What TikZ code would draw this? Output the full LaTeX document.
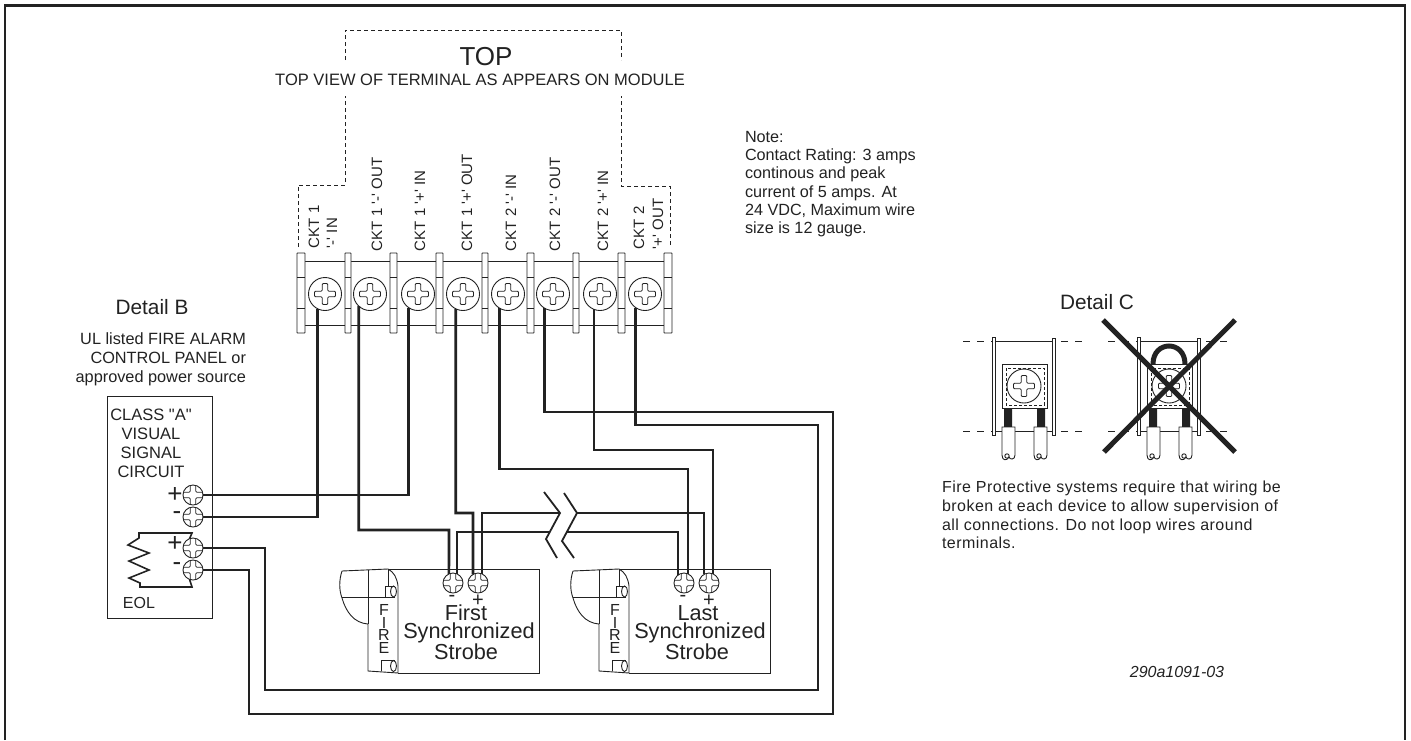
\documentclass[tikz,border=0pt]{standalone}
\usepackage{fontspec}
\setmainfont{Liberation Sans}
\definecolor{ink}{HTML}{222222}
\newcommand{\qs}{\textquotesingle}
\begin{document}
\begin{tikzpicture}[x=1pt,y=-1pt]
\tikzset{
    thinline/.style={draw=ink,line width=.9pt},
    dashline/.style={draw=ink,line width=.9pt,dash pattern=on 4pt off 3pt},
    wire/.style={draw=ink,line width=2.6pt},
    screw/.style={circle,draw=ink,fill=white,line width=.9pt,inner sep=0pt,outer sep=0pt,minimum size=#1,
        path picture={\draw[ink,line width=.8pt,rounded corners=1pt,shift={(path picture bounding box.center)},scale=#1/33]
        (-2.8,-10.5) -- (2.8,-10.5) -- (2.8,-2.8) -- (10.5,-2.8) -- (10.5,2.8) -- (2.8,2.8) -- (2.8,10.5) -- (-2.8,10.5) -- (-2.8,2.8) -- (-10.5,2.8) -- (-10.5,-2.8) -- (-2.8,-2.8) -- cycle;}},
    txt/.style={inner sep=0pt,outer sep=0pt,text=ink,font=\fontsize{#1}{#1}\selectfont},
}
\useasboundingbox (0,0) rectangle (1411,740);

% Frame
\draw[ink,line width=2.2pt] (5,740) -- (5,5.5) -- (1405,5.5) -- (1405,740);

% Top view
\draw[dashline] (345,60) -- (345,30) -- (621,30) -- (621,60);
\draw[dashline] (298,247) -- (298,185) -- (345,185) -- (345,96);
\draw[dashline] (670,245) -- (670,186) -- (621,186) -- (621,96);
\node[txt=26] (toptitle) at (486,57) {TOP};
\node[txt=16.5] (topview) at (480,80) {TOP VIEW OF TERMINAL AS APPEARS ON MODULE};
\node[txt=16.2,anchor=north west,align=left] (note) at (745,131) {Note:\\[2.1pt]Contact Rating: 3 amps\\[2.1pt]continous and peak\\[2.1pt]current of 5 amps. At\\[2.1pt]24 VDC, Maximum wire\\[2.1pt]size is 12 gauge.};

% Terminal strip
\draw[thinline] (305,261) -- (664,261) (305,325) -- (664,325);
\foreach \xa/\xb in {297/305,345/351,390/397,436/443,482/488,527/534,573/579,618/625,664/672}{
    \draw[thinline,fill=white,rounded corners=.5pt] (\xa,253) rectangle (\xb,333);
    \draw[thinline] (\xa,277) -- (\xb,277) (\xa,308) -- (\xb,308);
}
\foreach \n/\x in {1/325,2/370,3/418,4/463,5/508,6/553,7/600,8/645}{
    \node[screw=33] (t\n) at (\x,294) {};
}
\node[txt=15,rotate=90,anchor=west] (c1a) at (314,248) {CKT 1};
\node[txt=15,rotate=90,anchor=west] (c1b) at (332,248) {\qs-\qs{} IN};
\foreach \n/\x/\lab in {2/377/CKT 1 \qs-\qs{} OUT,3/420/CKT 1 \qs+\qs{} IN,4/467/CKT 1 \qs+\qs{} OUT,5/511/CKT 2 \qs-\qs{} IN,6/555/CKT 2 \qs-\qs{} OUT,7/603/CKT 2 \qs+\qs{} IN}{
    \node[txt=15,rotate=90,anchor=west] (c\n) at (\x,251) {\lab};
}
\node[txt=15,rotate=90,anchor=west] (c8a) at (639,249) {CKT 2};
\node[txt=15,rotate=90,anchor=west] (c8b) at (658,249) {\qs+\qs{} OUT};

% Panel
\node[txt=20.8] (detailb) at (152,307) {Detail B};
\node[txt=16.3,anchor=north east,align=right] (ul) at (246,333) {UL listed FIRE ALARM\\[2.7pt]CONTROL PANEL or\\[2.7pt]approved power source};
\draw[thinline] (107,396) rectangle (212,618);
\node[txt=16.5,anchor=north,align=center] (classa) at (151,409) {CLASS \textquotedbl A\textquotedbl\\[2.5pt]VISUAL\\[2.5pt]SIGNAL\\[2.5pt]CIRCUIT};
\node[txt=16] (eol) at (139,603) {EOL};
\foreach \n/\y in {1/495,2/517,3/548,4/570}{
    \node[screw=20] (p\n) at (193,\y) {};
}
\node[txt=26] (pplus1) at (175,495) {+};
\node[txt=26] (pminus1) at (177,516) {-};
\node[txt=26] (pplus2) at (175,544) {+};
\node[txt=26] (pminus2) at (177,567) {-};
\draw[ink,line width=1.6pt] (p3.110) -- (192,533) -- (139,533) -- (139,538) -- (128,545) -- (149,553) -- (129,561) -- (149,570) -- (129,578) -- (140,583) -- (140,587) -- (192,587) -- (p4.250);

% Strobes
\foreach \sx/\sa/\sb/\sc/\sd/\word/\wx in {0/f1/f2/fm/fp/First/466,231/l1/l2/lm/lp/Last/467}{
\begin{scope}[shift={(\sx,0)}]
    \draw[thinline] (388,569) -- (539,569) -- (539,673) -- (398,673);
    \draw[thinline] (342,571) -- (388,569) .. controls (394,572) and (397,578) .. (398,586) -- (398,673) -- (368,671) -- (368,624) .. controls (354,623) and (346,612) .. (342,598) .. controls (339,590) and (339,580) .. (342,571);
    \draw[thinline] (368,570) -- (368,624) (342,597) -- (387,597) (388,569) -- (388,586);
    \draw[thinline] (385,597) -- (385,586) -- (395,586) (395,597) -- (385,597);
    \draw[thinline] (393.5,591.5) ellipse[x radius=3pt,y radius=5.5pt];
    \draw[thinline] (381,671) -- (381,660) -- (395,660);
    \draw[thinline] (393.5,666) ellipse[x radius=3pt,y radius=5.5pt];
    \node[txt=16,align=center] (fire\sx) at (384,629) {F\\[-3.5pt]I\\[-3.5pt]R\\[-3.5pt]E};
    \node[screw=20] (\sa) at (453,583) {};
    \node[screw=20] (\sb) at (478,583) {};
    \node[txt=20] (\sc) at (452,598) {-};
    \node[txt=20] (\sd) at (478,601) {+};
    \node[txt=21.7] (w\sx) at (\wx,613) {\word};
    \node[txt=21.7] (sy\sx) at (469,633) {Synchronized};
    \node[txt=21.7] (st\sx) at (466,652) {Strobe};
\end{scope}
}

% Corners and gaps of the wires
\coordinate (j2) at (449,530);
\coordinate (j4) at (473,513);
\coordinate (gapa) at (550,532);
\coordinate (gapb) at (560,513);
\coordinate (gapc) at (567,532);
\coordinate (gapd) at (577,513);
\coordinate (k5) at (600,469);
\coordinate (k7) at (650,450);
\coordinate (r6) at (833,412);
\coordinate (r6b) at (249,714);
\coordinate (r8) at (818,425);
\coordinate (r8b) at (265,690);

% Wires
\draw[wire] (t1.244) |- (p2.east);
\draw[wire] (t3.236) |- (p1.east);
\draw[wire] (t2.227) |- (j2) -- (f1.114);
\draw[wire] (t4.244) |- (j4) -- (f2.120);
\draw[wire] (f1.66) |- (gapa);
\draw[wire] (f2.66) |- (gapb);
\draw[wire] (gapc) -| (l1.127);
\draw[wire] (gapd) -| (l2.120);
\draw[wire] (t5.240) |- (k5) -| (l1.66);
\draw[wire] (t7.248) |- (k7) -| (l2.66);
\draw[wire] (t6.240) |- (r6) |- (r6b) |- (p4.east);
\draw[wire] (t8.236) |- (r8) |- (r8b) |- (p3.east);

% Break marks
\coordinate (ba1) at (544,492);
\coordinate (ba2) at (560,513);
\coordinate (ba3) at (546,539);
\coordinate (ba4) at (557,558);
\coordinate (bb1) at (564,493);
\coordinate (bb2) at (577,513);
\coordinate (bb3) at (562,541);
\coordinate (bb4) at (574,558);
\draw[ink,line width=1.8pt] (ba1) -- (ba2) -- (ba3) -- (ba4);
\draw[ink,line width=1.8pt] (bb1) -- (bb2) -- (bb3) -- (bb4);

% Detail C
\node[txt=20.8] (detailc) at (1097,302) {Detail C};
\foreach \sx in {0,145}{
\begin{scope}[shift={(\sx,0)}]
    \draw[dashline,dash pattern=on 7pt off 7pt] (963,341) -- (1082,341) (963,431) -- (1082,431);
    \draw[thinline,fill=white] (992,337) rectangle (995,435);
    \draw[thinline,fill=white] (1052,338) rectangle (1055,435);
    \draw[thinline,fill=white] (995,341) rectangle (1052,431);
    \draw[thinline] (1002,364) rectangle (1047,408);
    \draw[dashline,dash pattern=on 3pt off 2pt] (1006,368) rectangle (1044,405);
    \node[screw=34] (ds\sx) at (1024,386) {};
    \fill[ink] (1004,408) rectangle (1012,427) (1037,408) rectangle (1045,427);
    \foreach \lx in {1002,1034}{
        \draw[thinline,fill=white] (\lx,427) -- ({\lx+13},427) -- ({\lx+13},455) .. controls ({\lx+13},460) and ({\lx+8},460) .. ({\lx+7},457) .. controls ({\lx+5},461) and (\lx,461) .. (\lx,455) -- cycle;
        \draw[thinline] ({\lx+5},456) circle[radius=2.2pt];
    }
\end{scope}
}
\draw[ink,line width=5pt] (1153,364) .. controls (1153,340) and (1185,340) .. (1185,364);
\coordinate (xa) at (1103,320);
\coordinate (xb) at (1235,452);
\coordinate (xc) at (1235,320);
\coordinate (xd) at (1104,452);
\draw[ink,line width=5pt] (xa) -- (xb) (xc) -- (xd);
\node[txt=16,anchor=north west,align=left] (para) at (942,481) {\addfontfeature{LetterSpace=3}Fire Protective systems require that wiring be\\[2.7pt]\addfontfeature{LetterSpace=3}broken at each device to allow supervision of\\[2.7pt]\addfontfeature{LetterSpace=3}all connections. Do not loop wires around\\[2.7pt]\addfontfeature{LetterSpace=3}terminals.};
\node[txt=16,font=\fontsize{16}{16}\selectfont\itshape] (partno) at (1177,672) {290a1091-03};

\end{tikzpicture}
\end{document}
